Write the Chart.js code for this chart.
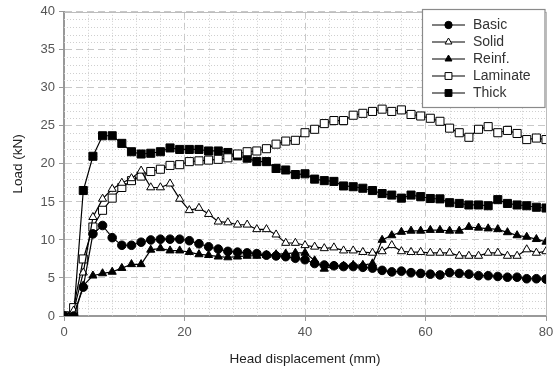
<!DOCTYPE html>
<html>
<head>
<meta charset="utf-8">
<script src="https://cdn.jsdelivr.net/npm/chart.js@4.4.1/dist/chart.umd.min.js"></script>
<style>
	html, body { margin: 0; padding: 0; background: #fff; }
	#wrap { width: 559px; height: 373px; }
</style>
</head>
<body>
<div id="wrap"><canvas id="chart"></canvas></div>
<script>
// head displacement (mm), one reading every 1.6 mm
const displacement = [
	0, 1.6, 3.2, 4.8, 6.4, 8, 9.6, 11.2, 12.8, 14.4,
	16, 17.6, 19.2, 20.8, 22.4, 24, 25.6, 27.2, 28.8, 30.4,
	32, 33.6, 35.2, 36.8, 38.4, 40, 41.6, 43.2, 44.8, 46.4,
	48, 49.6, 51.2, 52.8, 54.4, 56, 57.6, 59.2, 60.8, 62.4,
	64, 65.6, 67.2, 68.8, 70.4, 72, 73.6, 75.2, 76.8, 78.4, 80
];
const seriesNames = ["Basic", "Solid", "Reinf.", "Laminate", "Thick"];

// load (kN)
const basic = [
	0, 0, 3.8, 10.8, 11.9, 10.3, 9.3, 9.3, 9.7, 10.0,
	10.1, 10.1, 10.1, 9.9, 9.5, 9.1, 8.8, 8.5, 8.4, 8.3,
	8.2, 8.0, 7.9, 7.8, 7.6, 7.4, 6.9, 6.7, 6.6, 6.5,
	6.5, 6.4, 6.3, 6.0, 5.8, 5.9, 5.7, 5.6, 5.5, 5.4,
	5.7, 5.6, 5.5, 5.3, 5.3, 5.2, 5.1, 5.1, 4.9, 4.9, 4.85
];
const solid = [
	0, 0.7, 5.7, 13.0, 15.4, 16.7, 17.5, 18.1, 19.1, 16.9,
	16.9, 17.4, 15.4, 13.9, 14.2, 13.4, 12.4, 12.3, 12.0, 12.0,
	11.4, 11.4, 10.7, 9.6, 9.6, 9.3, 9.1, 8.9, 9.0, 8.6,
	8.6, 8.4, 8.3, 8.5, 9.3, 8.5, 8.4, 8.4, 8.3, 8.3,
	8.3, 7.9, 7.9, 7.9, 8.3, 8.3, 7.9, 7.9, 8.75, 8.3, 8.5
];
const reinf = [
	0, 0, 4.0, 5.3, 5.6, 5.8, 6.3, 6.8, 6.8, 8.7,
	8.9, 8.6, 8.6, 8.4, 8.1, 8.0, 7.8, 7.7, 7.8, 7.9,
	7.9, 8.0, 8.1, 8.2, 8.3, 8.3, 7.3, 6.2, 6.6, 6.6,
	6.7, 6.7, 6.9, 10.0, 10.6, 11.05, 11.2, 11.2, 11.3, 11.3,
	11.2, 11.2, 11.7, 11.6, 11.5, 11.4, 11.0, 10.6, 10.4, 10.1, 9.75
];
const laminate = [
	0, 1.1, 7.5, 11.7, 13.9, 15.5, 16.9, 17.8, 18.4, 19.0,
	19.3, 19.8, 19.9, 20.3, 20.4, 20.5, 20.6, 20.8, 21.3, 21.6,
	21.7, 22.0, 22.6, 23.0, 23.1, 24.1, 24.55, 25.3, 25.7, 25.7,
	26.4, 26.65, 26.9, 27.2, 26.9, 27.1, 26.5, 26.3, 26.0, 25.6,
	24.7, 24.1, 23.5, 24.55, 24.9, 24.1, 24.4, 24.0, 23.2, 23.4, 23.2
];
const thick = [
	0, 0, 16.5, 21.0, 23.7, 23.7, 22.7, 21.6, 21.3, 21.4,
	21.6, 22.1, 21.9, 21.9, 21.9, 21.7, 21.7, 21.5, 21.05, 20.75,
	20.3, 20.3, 19.4, 19.2, 18.6, 18.7, 18.0, 17.8, 17.7, 17.1,
	17.0, 16.8, 16.5, 16.1, 15.9, 15.5, 15.9, 15.7, 15.45, 15.4,
	14.9, 14.8, 14.6, 14.6, 14.5, 15.3, 14.8, 14.6, 14.5, 14.3, 14.2
];

const xTicks = [0, 20, 40, 60, 80];
const yTicks = [0, 5, 10, 15, 20, 25, 30, 35, 40];

const FONT = "'Liberation Sans', Arial, sans-serif";

const makeSet = (label, values, style, filled, radius) => ({
	label: label,
	data: values.map((v, i) => ({ x: displacement[i], y: v })),
	borderColor: "#000",
	borderWidth: 1.2,
	pointStyle: style,
	pointRadius: radius,
	pointBorderWidth: 1,
	pointBorderColor: "#000",
	pointBackgroundColor: filled ? "#000" : "#fff",
	tension: 0,
});

const datasets = [
	makeSet(seriesNames[0], basic, "circle", true, 4.3),
	makeSet(seriesNames[1], solid, "triangle", false, 4.7),
	makeSet(seriesNames[2], reinf, "triangle", true, 4.7),
	makeSet(seriesNames[3], laminate, "rect", false, 5.7),
	makeSet(seriesNames[4], thick, "rect", true, 5.7),
];

// dotted minor grid, frame and boxed legend
const paperLook = {
	id: "paperLook",
	beforeDatasetsDraw(chart) {
		const { ctx, chartArea: ca } = chart;
		const xs = chart.scales.x;
		const ys = chart.scales.y;
		ctx.save();
		ctx.strokeStyle = "#cfcfcf";
		ctx.lineWidth = 1;
		ctx.setLineDash([1, 2]);
		for (let v = 1; v < 40; v++) {
			if (v % 5 === 0) continue;
			const y = Math.round(ys.getPixelForValue(v)) + 0.5;
			ctx.beginPath();
			ctx.moveTo(ca.left, y);
			ctx.lineTo(ca.right, y);
			ctx.stroke();
		}
		for (let v = 4; v < 80; v += 4) {
			if (v % 20 === 0) continue;
			const x = Math.round(xs.getPixelForValue(v)) + 0.5;
			ctx.beginPath();
			ctx.moveTo(x, ca.top);
			ctx.lineTo(x, ca.bottom);
			ctx.stroke();
		}
		ctx.setLineDash([]);
		ctx.strokeStyle = "#bdbdbd";
		ctx.beginPath();
		ctx.moveTo(ca.left, Math.round(ca.top) + 0.5);
		ctx.lineTo(Math.round(ca.right) + 0.5, Math.round(ca.top) + 0.5);
		ctx.lineTo(Math.round(ca.right) + 0.5, ca.bottom);
		ctx.stroke();
		ctx.restore();
	},
	afterDraw(chart) {
		const { ctx } = chart;
		const box = { x: 422.5, y: 9.5, w: 122.5, h: 98 };
		ctx.save();
		ctx.fillStyle = "#fff";
		ctx.fillRect(box.x, box.y, box.w, box.h);
		ctx.strokeStyle = "#8a8a8a";
		ctx.lineWidth = 1.2;
		ctx.strokeRect(box.x, box.y, box.w, box.h);
		ctx.font = "14px " + FONT;
		ctx.textBaseline = "middle";
		chart.data.datasets.forEach((ds, i) => {
			const y = 25 + i * 17;
			ctx.strokeStyle = "#000";
			ctx.lineWidth = 1.2;
			ctx.beginPath();
			ctx.moveTo(432, y);
			ctx.lineTo(465, y);
			ctx.stroke();
			ctx.fillStyle = ds.pointBackgroundColor;
			ctx.strokeStyle = "#000";
			ctx.lineWidth = 1;
			Chart.helpers.drawPoint(ctx, {
				pointStyle: ds.pointStyle,
				radius: ds.pointRadius * 0.85,
				rotation: 0,
				borderWidth: 1,
			}, 448.5, y);
			ctx.fillStyle = "#333";
			ctx.fillText(ds.label, 473, y + 0.5);
		});
		ctx.restore();
	},
};

new Chart(document.getElementById("chart"), {
	type: "line",
	data: { datasets: datasets },
	plugins: [paperLook],
	options: {
		responsive: true,
		maintainAspectRatio: false,
		animation: false,
		layout: { padding: { top: 11, right: 13, left: 0, bottom: 0 } },
		plugins: {
			legend: { display: false },
			tooltip: { enabled: false },
		},
		scales: {
			x: {
				type: "linear",
				min: 0,
				max: 80,
				afterFit: s => { s.height = 57; },
				afterBuildTicks: s => { s.ticks = xTicks.map(v => ({ value: v })); },
				ticks: { color: "#555", font: { family: FONT, size: 13 }, padding: 4 },
				grid: { color: "#c8c8c8", tickColor: "#999", tickLength: 5, lineWidth: 1 },
				border: { display: true, color: "#999", width: 2, dash: [7, 4] },
				title: {
					display: true,
					text: "Head displacement (mm)",
					color: "#222",
					font: { family: FONT, size: 13.5 },
					padding: { top: 0, bottom: 6 },
				},
			},
			y: {
				min: 0,
				max: 40,
				afterFit: s => { s.width = 64; },
				afterBuildTicks: s => { s.ticks = yTicks.map(v => ({ value: v })); },
				ticks: { color: "#555", font: { family: FONT, size: 13 }, padding: 4 },
				grid: { color: "#c8c8c8", tickColor: "#999", tickLength: 5, lineWidth: 1 },
				border: { display: true, color: "#999", width: 2, dash: [7, 4] },
				title: {
					display: true,
					text: "Load (kN)",
					color: "#222",
					font: { family: FONT, size: 13.5 },
					padding: { top: 10, bottom: 0 },
				},
			},
		},
	},
});
</script>
</body>
</html>
